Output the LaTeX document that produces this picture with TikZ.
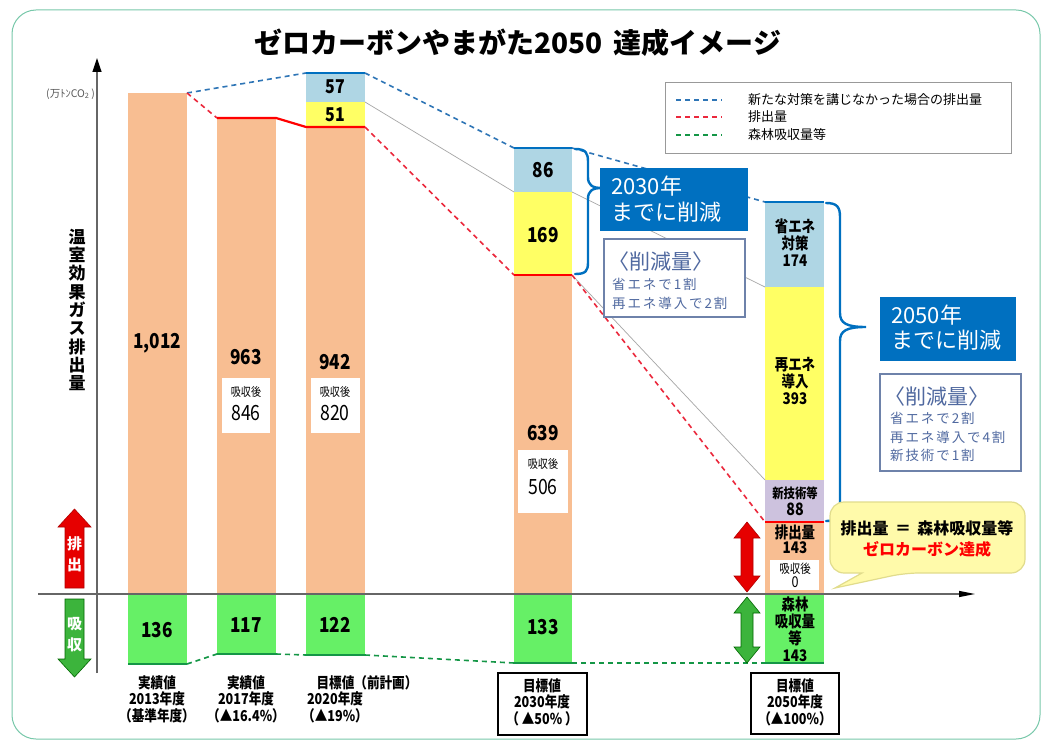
\documentclass[tikz,border=0pt]{standalone}
\usepackage{fontspec}
\setmainfont{Noto Sans CJK JP}
\usetikzlibrary{arrows.meta}
\definecolor{cOrange}{RGB}{248,190,146}
\definecolor{cGreen}{RGB}{102,240,102}
\definecolor{cDGreen}{RGB}{20,150,70}
\definecolor{cLBlue}{RGB}{175,214,228}
\definecolor{cYellow}{RGB}{255,255,100}
\definecolor{cLav}{RGB}{205,194,222}
\definecolor{cBlueBox}{RGB}{0,112,192}
\definecolor{cBlueLine}{RGB}{46,117,182}
\definecolor{cRed}{RGB}{255,0,0}
\definecolor{cRedDash}{RGB}{235,40,60}
\definecolor{cSlate}{RGB}{80,105,160}
\definecolor{cSlateBorder}{RGB}{110,130,170}
\definecolor{cFrame}{RGB}{120,200,170}
\definecolor{cBubble}{RGB}{255,250,170}
\definecolor{cBubbleLine}{RGB}{225,220,140}
\definecolor{cArrRed}{RGB}{230,0,0}
\definecolor{cArrGreen}{RGB}{60,180,60}
\newcommand\fsz[2]{\fontsize{#1pt}{#2pt}\selectfont}
\newcommand\narrow{\addfontfeature{FakeStretch=0.84}}
\begin{document}
\begin{tikzpicture}[x=1pt,y=-1pt,
  bignum/.style={font=\bfseries\fsz{20.5}{22}\narrow, inner sep=0pt},
  midnum/.style={font=\bfseries\fsz{19}{20}\narrow, inner sep=0pt},
  wtxt/.style={font=\fsz{12}{14}\narrow, inner sep=0pt},
  wnum/.style={font=\fsz{21}{22}\narrow, inner sep=0pt},
  in5/.style={font=\bfseries\fsz{16}{17}\narrow, align=center, inner sep=0pt},
  botlab/.style={font=\bfseries\fsz{15}{16.5}\narrow, align=center, inner sep=0pt},
  bluedash/.style={cBlueLine, line width=1.6pt, dash pattern=on 5pt off 4pt},
  bluesolid/.style={cBlueBox, line width=2.6pt},
  reddash/.style={cRedDash, line width=1.6pt, dash pattern=on 5pt off 4pt},
  redsolid/.style={cRed, line width=2.2pt},
  greendash/.style={cDGreen, line width=1.6pt, dash pattern=on 5pt off 4pt},
  greensolid/.style={cDGreen, line width=2.2pt},
  grayline/.style={gray!70, line width=0.7pt},
  brace/.style={cBlueBox, line width=2.4pt, line cap=round},
  bluebox/.style={fill=cBlueBox},
  redbox/.style={draw=cSlateBorder, line width=1.3pt, fill=white},
  slatetxt/.style={text=cSlate, inner sep=0pt, anchor=west},
]
\useasboundingbox (0,0) rectangle (1048,743);
\fill[white] (0,0) rectangle (1048,743);
\draw[cFrame, line width=1pt, rounded corners=24] (12,10) rectangle (1040,739);

% title
\node[font=\bfseries\fsz{28}{32}, inner sep=0pt] (title) at (518,43) {ゼロカーボンやまがた2050\, 達成イメージ};

% legend
\draw[gray!80, line width=0.9pt] (665,82) rectangle (1011,153);
\coordinate (lg1a) at (676,100); \coordinate (lg1b) at (722,100);
\coordinate (lg2a) at (676,117); \coordinate (lg2b) at (722,117);
\coordinate (lg3a) at (676,135); \coordinate (lg3b) at (722,135);
\draw[bluedash] (lg1a) -- (lg1b);
\draw[reddash] (lg2a) -- (lg2b);
\draw[greendash] (lg3a) -- (lg3b);
\node[font=\fsz{13}{15}, inner sep=0pt, anchor=west] (lt1) at (748,100) {新たな対策を講じなかった場合の排出量};
\node[font=\fsz{13}{15}, inner sep=0pt, anchor=west] (lt2) at (748,117) {排出量};
\node[font=\fsz{13}{15}, inner sep=0pt, anchor=west] (lt3) at (748,135) {森林吸収量等};

% bars
\fill[cOrange] (128,93) rectangle (187,594);
\fill[cGreen] (128,594) rectangle (187,664);
\fill[cOrange] (217,118) rectangle (276,594);
\fill[cGreen] (217,594) rectangle (276,654);
\fill[cLBlue] (306,73) rectangle (365,102);
\fill[cYellow] (306,102) rectangle (365,127);
\fill[cOrange] (306,127) rectangle (365,594);
\fill[cGreen] (306,594) rectangle (365,655);
\fill[cLBlue] (514,148) rectangle (572,192);
\fill[cYellow] (514,192) rectangle (572,275);
\fill[cOrange] (514,275) rectangle (572,594);
\fill[cGreen] (514,594) rectangle (572,663);
\fill[cLBlue] (765,202) rectangle (824,287);
\fill[cYellow] (765,287) rectangle (824,480);
\fill[cLav] (765,480) rectangle (824,522);
\fill[cOrange] (765,522) rectangle (824,594);
\fill[cGreen] (765,594) rectangle (824,663);

% white boxes
\fill[white] (222,378) rectangle (270,433);
\fill[white] (311,378) rectangle (360,433);
\fill[white] (518,450) rectangle (568,513);
\fill[white] (770,560) rectangle (819,590);

% gray guide lines
\draw[grayline] (365,102) -- (514,192);
\draw[grayline] (572,192) -- (765,287);
\draw[grayline] (572,275) -- (765,480);

% blue (no new measures) line
\draw[bluedash] (187,93) -- (306,73);
\draw[bluesolid] (306,73) -- (365,73);
\draw[bluedash] (365,73) -- (514,148);
\draw[bluesolid] (514,148) -- (572,148);
\draw[bluedash] (572,148) -- (765,202);
\draw[bluesolid] (765,202) -- (824,202);

% red (emissions) line
\draw[reddash] (187,93) -- (217,118);
\draw[redsolid] (217,118) -- (276,118) -- (306,127) -- (365,127);
\draw[reddash] (365,127) -- (514,275);
\draw[redsolid] (514,275) -- (572,275);
\draw[reddash] (572,275) -- (765,522);
\draw[redsolid] (765,522) -- (824,522);

% green (absorption) line
\draw[greensolid] (128,664) -- (187,664);
\draw[greendash] (187,664) -- (217,654);
\draw[greensolid] (217,654) -- (276,654);
\draw[greendash] (276,654) -- (306,655);
\draw[greensolid] (306,655) -- (365,655);
\draw[greendash] (365,655) -- (514,663);
\draw[greensolid] (514,663) -- (572,663);
\draw[greendash] (572,663) -- (765,663);
\draw[greensolid] (765,663) -- (824,663);

% axes
\coordinate (yb) at (97,673); \coordinate (yt) at (97,58);
\coordinate (xl) at (38,594); \coordinate (xr) at (975,594);
\draw[gray!80!black, line width=1.2pt, -{Triangle[length=14pt,width=9pt,color=black]}] (yb) -- (yt);
\draw[gray!80!black, line width=1.2pt, -{Triangle[length=16pt,width=6pt,color=black]}] (xl) -- (xr);

% unit and y label
\node[font=\fsz{10.5}{11}, text=gray!70!black, inner sep=0pt, anchor=east] (unit) at (95,94) {(万ﾄﾝCO\textsubscript{2}\,)};
\node[font=\bfseries\fsz{17}{18.3}, align=center, inner sep=0pt] (ylab) at (77,310) {温\\室\\効\\果\\ガ\\ス\\排\\出\\量};

% left up/down arrows
\filldraw[fill=cArrRed, draw=red!70!black, line width=0.6pt] (74.5,509) -- (91,527) -- (84,527) -- (84,588) -- (65,588) -- (65,527) -- (58,527) -- cycle;
\node[font=\bfseries\fsz{15}{21}, text=white, align=center, inner sep=0pt] (haishutsu) at (74.5,554) {排\\出};
\filldraw[fill=cArrGreen, draw=green!40!black, line width=0.6pt] (74.5,677) -- (91,659) -- (84,659) -- (84,599) -- (65,599) -- (65,659) -- (58,659) -- cycle;
\node[font=\bfseries\fsz{15}{21}, text=white, align=center, inner sep=0pt] (kyushu) at (74.5,635) {吸\\収};

% bar values
\node[bignum] (v1012) at (157,343) {1,012};
\node[bignum] (v136) at (157,630) {136};
\node[bignum] (v963) at (246,357) {963};
\node[wtxt] (k2) at (246,392) {吸収後};
\node[wnum] (v846) at (246,413) {846};
\node[bignum] (v117) at (246,625) {117};
\node[midnum] (v57) at (335,87) {57};
\node[midnum] (v51) at (335,115) {51};
\node[bignum] (v942) at (335,362) {942};
\node[wtxt] (k3) at (335,392) {吸収後};
\node[wnum] (v820) at (335,413) {820};
\node[bignum] (v122) at (335,625) {122};
\node[bignum] (v86) at (543,170) {86};
\node[bignum] (v169) at (543,235) {169};
\node[bignum] (v639) at (543,433) {639};
\node[wtxt] (k4) at (543,464) {吸収後};
\node[wnum] (v506) at (543,487) {506};
\node[bignum] (v133) at (543,627) {133};

\node[in5] (s174) at (795,243) {省エネ\\対策\\174};
\node[in5] (s393) at (795,381) {再エネ\\導入\\393};
\node[in5, font=\bfseries\fsz{13.5}{16}\narrow] (s88a) at (795,493) {新技術等};
\node[in5, font=\bfseries\fsz{17}{17}\narrow] (s88b) at (795,509) {88};
\node[in5] (s143a) at (795,532) {排出量};
\node[in5] (s143b) at (795,548) {143};
\node[in5, font=\fsz{12.5}{13}\narrow] (s0a) at (795,569) {吸収後};
\node[in5, font=\fsz{15}{15}\narrow] (s0b) at (795,582.5) {0};
\node[in5] (s143c) at (795,629.5) {森林\\吸収量\\等\\143};

% 2050 double arrows
\filldraw[fill=cArrRed, draw=red!70!black, line width=0.6pt] (747,522) -- (760,538) -- (753,538) -- (753,576) -- (760,576) -- (747,592) -- (734,576) -- (741,576) -- (741,538) -- (734,538) -- cycle;
\filldraw[fill=cArrGreen, draw=green!40!black, line width=0.6pt] (747,597) -- (760,613) -- (753,613) -- (753,647) -- (760,647) -- (747,663) -- (734,647) -- (741,647) -- (741,613) -- (734,613) -- cycle;

% 2030 brace and boxes
\draw[brace] (575,149) .. controls (586,149) and (588,153) .. (588,162) -- (588,177) .. controls (588,185) and (592,188) .. (602,188) .. controls (592,188) and (588,191) .. (588,199) -- (588,262) .. controls (588,271) and (586,274) .. (575,274);
\fill[bluebox] (600,168) rectangle (748,231);
\node[font=\fsz{22}{26}, text=white, align=left, inner sep=0pt, anchor=north west] (b2030) at (611,176) {2030年\\までに削減};
\draw[redbox] (604,239) rectangle (745,317);
\node[slatetxt, font=\fsz{21}{22}] (r1) at (608,262) {〈削減量〉};
\node[slatetxt, font=\fsz{13.5}{15}\addfontfeature{LetterSpace=14}] (r2) at (612,284) {省エネで1割};
\node[slatetxt, font=\fsz{13.5}{15}\addfontfeature{LetterSpace=14}] (r3) at (612,303) {再エネ導入で2割};

% 2050 brace and boxes
\draw[brace] (826,203) .. controls (837,203) and (840,207) .. (840,217) -- (840,313) .. controls (840,323) and (846,327) .. (866,327) .. controls (846,327) and (840,331) .. (840,341) -- (840,508) .. controls (840,518) and (837,521) .. (826,521);
\fill[bluebox] (880,297) rectangle (1016,361);
\node[font=\fsz{22}{25}, text=white, align=left, inner sep=0pt, anchor=north west] (b2050) at (891,305) {2050年\\までに削減};
\draw[redbox] (880,374) rectangle (1021,471);
\node[slatetxt, font=\fsz{21}{22}] (q1) at (884,397) {〈削減量〉};
\node[slatetxt, font=\fsz{13.5}{15}\addfontfeature{LetterSpace=14}] (q2) at (890,418) {省エネで2割};
\node[slatetxt, font=\fsz{13.5}{15}\addfontfeature{LetterSpace=14}] (q3) at (890,437) {再エネ導入で4割};
\node[slatetxt, font=\fsz{13.5}{15}\addfontfeature{LetterSpace=14}] (q4) at (890,455) {新技術で1割};

% callout
\filldraw[fill=cBubble, draw=cBubbleLine, line width=1.2pt] (846,573) [rounded corners=14] -- (830,573) -- (830,502) -- (1025,502) -- (1025,573) -- (905,573) [sharp corners] -- (835,588) -- (862,573) -- cycle;
\node[font=\bfseries\fsz{16}{18}, inner sep=0pt] (eq) at (927,528) {排出量 \,＝\, 森林吸収量等};
\node[font=\bfseries\fsz{16}{18}, text=red, inner sep=0pt] (zc) at (927,549) {ゼロカーボン達成};

% bottom labels
\node[botlab, anchor=north] (l1) at (157,675) {実績値\\2013年度\\（基準年度）};
\node[botlab, anchor=north] (l2) at (246,675) {実績値\\2017年度\\（▲16.4\%）};
\node[botlab, anchor=north] (l3a) at (367,675) {目標値（前計画）};
\node[botlab, anchor=north] (l3b) at (335,691.5) {2020年度\\（▲19\%）};
\draw[black, line width=1.2pt] (498,673) rectangle (587,735);
\node[botlab, anchor=north] (l4) at (542,678) {目標値\\2030年度\\（ ▲50\% ）};
\draw[black, line width=1.2pt] (751,673) rectangle (839,734);
\node[botlab, anchor=north] (l5) at (795,678) {目標値\\2050年度\\（▲100\%）};
\end{tikzpicture}
\end{document}
